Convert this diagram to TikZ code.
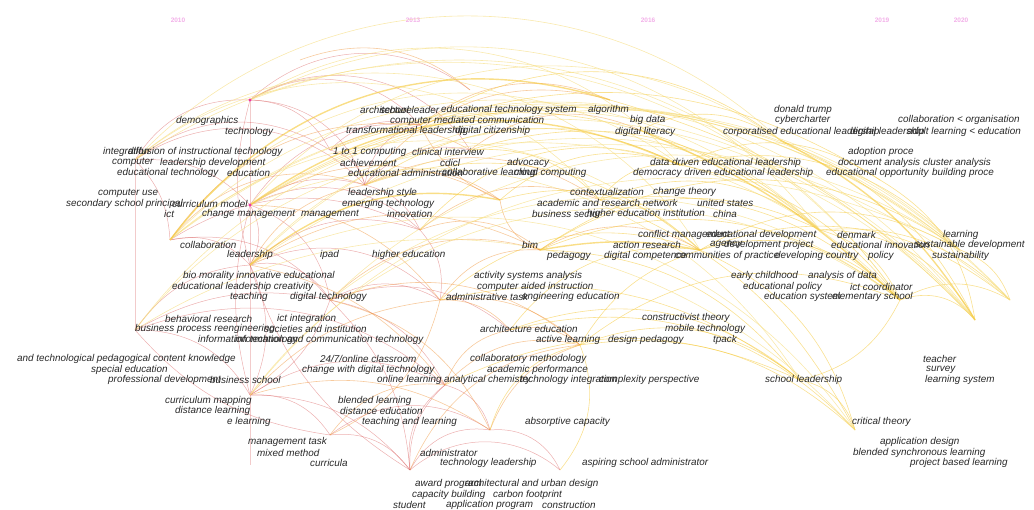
\documentclass[tikz,border=0pt]{standalone}
\usepackage{fontspec}
\setmainfont{Liberation Sans}
\definecolor{arcred}{RGB}{214,80,80}
\definecolor{arcorange}{RGB}{240,150,60}
\definecolor{arcyellow}{RGB}{245,200,55}
\definecolor{arcpale}{RGB}{246,222,130}
\definecolor{yearpink}{RGB}{242,175,232}
\definecolor{kwgray}{RGB}{40,40,40}
\tikzset{
  kw/.style={anchor=west, inner sep=0pt, font=\fontsize{9.9}{10}\selectfont\itshape, text=kwgray},
  yearlabel/.style={inner sep=0pt, font=\fontsize{6.5}{7}\selectfont\bfseries, text=yearpink},
  redarc/.style={draw=arcred, line width=0.5pt, opacity=0.45},
  orangearc/.style={draw=arcorange, line width=0.6pt, opacity=0.5},
  yellowarc/.style={draw=arcyellow, line width=0.6pt, opacity=0.55},
  palearc/.style={draw=arcpale, line width=0.6pt, opacity=0.65},
  boldarc/.style={draw=arcyellow, line width=1.4pt, opacity=0.6},
  stem/.style={draw=arcred!50, line width=0.4pt, opacity=0.6}
}
\begin{document}
\begin{tikzpicture}[x=1pt,y=-1pt]
\useasboundingbox (0,0) rectangle (1034,510);

% keyword points
\foreach \n/\x/\y in {a1/135/160, a2/135/330, a3/250/100, a4/250/205, a5/250/265,
  a6/250/395, a7/170/240, a8/330/300, a9/365/185, a10/330/150, a11/420/125,
  a12/330/435, a13/410/470, a14/445/385, a15/490/430, a16/560/470, a17/540/250,
  a18/600/200, a19/580/345, a20/440/300, a21/700/250, a22/680/165, a23/640/130,
  a24/610/100, a25/820/230, a26/900/300, a27/975/320, a28/855/430, a29/800/380,
  a30/880/180, a31/960/250, a32/780/140, a33/500/200, a34/470/150, a35/250/465,
  a36/510/330, a37/420/230, a38/300/60, a39/470/90, a40/1010/300}
  \coordinate (\n) at (\x,\y);

\draw[stem] (a1) -- (a2);
\draw[stem] (a3) -- (a35);

\foreach \a/\b/\s in {a1/a3/30, a1/a4/25, a1/a7/20, a3/a9/35, a3/a11/40, a3/a10/30,
  a4/a5/30, a4/a8/30, a4/a9/25, a5/a8/35, a5/a6/25, a6/a12/30, a6/a14/30, a2/a6/30,
  a2/a5/25, a7/a5/30, a7/a8/30, a8/a14/25, a8/a13/20, a9/a11/35, a9/a34/30,
  a10/a9/30, a12/a13/30, a13/a15/35, a13/a16/40, a14/a13/-25, a15/a16/35,
  a8/a20/30, a5/a20/35, a3/a34/45, a4/a11/30, a1/a10/35, a2/a8/20, a6/a13/25,
  a3/a39/40, a1/a9/40, a2/a14/30, a7/a37/30, a4/a37/35, a5/a37/30, a6/a8/-20,
  a12/a15/35, a2/a12/-20, a5/a13/-20, a8/a36/30, a4/a6/-15, a3/a5/-15,
  a9/a37/25, a37/a20/25, a10/a11/30, a14/a15/30, a13/a14/30}
  \draw[redarc] (\a) to[bend left=\s] (\b);

\foreach \a/\b/\s in {a5/a9/25, a7/a11/30, a8/a17/30, a9/a18/30, a9/a33/30,
  a14/a19/30, a20/a17/30, a11/a24/30, a10/a34/30, a8/a15/25, a5/a14/20,
  a6/a15/25, a12/a14/30, a20/a19/25, a33/a17/-30, a34/a23/30, a17/a21/30,
  a4/a20/25, a13/a19/30, a11/a33/-20, a37/a17/30, a36/a19/25, a20/a36/25,
  a7/a9/35, a5/a17/30, a8/a19/30, a9/a24/35, a38/a39/30, a37/a18/30,
  a14/a36/30, a15/a19/25, a12/a20/-25, a6/a20/20, a4/a33/30}
  \draw[orangearc] (\a) to[bend left=\s] (\b);

\foreach \a/\b/\s in {a4/a31/35, a10/a25/30, a9/a21/30, a11/a30/25, a17/a26/30,
  a18/a25/30, a18/a26/25, a19/a29/30, a21/a26/30, a21/a28/25, a22/a30/30,
  a23/a32/30, a24/a27/15, a25/a27/30, a25/a26/25, a29/a28/30, a26/a27/35,
  a33/a22/30, a18/a22/30, a17/a29/25, a19/a28/25, a20/a21/30, a34/a18/25,
  a22/a31/30, a32/a27/20, a14/a29/25, a15/a19/30, a16/a19/-30, a30/a27/25,
  a21/a31/30, a29/a26/-25, a19/a21/20, a36/a21/30, a37/a22/35, a33/a21/30,
  a17/a25/30, a36/a28/30, a19/a26/30, a21/a40/30, a26/a40/30, a31/a40/25,
  a25/a40/25, a22/a26/20, a18/a28/20, a20/a29/25, a9/a22/30, a11/a32/35,
  a34/a25/30, a17/a31/35, a36/a29/30}
  \draw[yellowarc] (\a) to[bend left=\s] (\b);

\foreach \a/\b/\s in {a7/a27/45, a2/a26/50, a5/a31/45, a4/a29/40, a3/a25/40,
  a1/a21/50, a6/a26/45, a8/a31/40, a10/a27/38, a5/a28/40, a7/a40/42,
  a4/a40/40, a1/a26/45, a2/a31/48, a7/a25/45, a4/a27/40, a3/a26/38, a9/a27/35,
  a1/a32/45, a7/a22/45, a5/a25/45, a6/a31/40, a8/a26/38, a2/a28/40,
  a3/a22/40, a1/a18/45, a4/a32/42, a7/a21/42, a5/a40/38}
  \draw[palearc] (\a) to[bend left=\s] (\b);

\draw[boldarc] (a7) to[bend left=35] (a24);
\draw[boldarc] (a4) to[bend left=30] (a22);
\draw[boldarc] (a23) to[bend left=10] (a26);
\draw[boldarc] (a5) to[bend left=25] (a33);
\draw[boldarc] (a32) to[bend left=15] (a27);
\draw[boldarc] (a17) to[bend left=10] (a21);

\fill[magenta!80] (a3) circle (1.6);
\fill[magenta!80] (a4) circle (1.6);

% years
\foreach \x/\t [count=\i] in {178/2010, 413/2013, 648/2016, 882/2019, 961/2020}
  \node[yearlabel] (yr\i) at (\x,20) {\t};

% keywords
\foreach \x/\y/\t [count=\i] in {
  176/121/demographics, 225/132/technology, 360/110/architecture,
  380/110/school leader, 441/110/educational technology system, 588/110/algorithm,
  390/121/computer mediated communication, 346/131/transformational leadership,
  455/131/digital citizenship, 630/120/big data, 615/132/digital literacy,
  774/110/donald trump, 775/120/cybercharter, 898/120/collaboration < organisation,
  723/132/corporatised educational leadership, 850/132/digital leadership,
  907/132/adult learning < education, 103/152/integration,
  128/152/diffusion of instructional technology, 112/162.5/computer,
  160/162.5/leadership development, 117/173/educational technology,
  227/173/education, 98/193/computer use, 66/204/secondary school principal,
  172/204/curriculum model, 164/214/ict, 202/214/change management,
  301/214/management, 333/152/1 to 1 computing, 412/152/clinical interview,
  340/163/achievement, 440/163/cdicl, 507/163/advocacy,
  348/173/educational administration, 442/173/collaborative learning,
  514/173/cloud computing, 348/193/leadership style, 342/204/emerging technology,
  387/214/innovation, 180/245/collaboration, 227/255/leadership, 320/255/ipad,
  372/255/higher education, 650/163/data driven educational leadership,
  633/173/democracy driven educational leadership, 848/152/adoption proce,
  838/163/document analysis, 923/163/cluster analysis,
  826/173/educational opportunity, 932/173/building proce,
  570/192/contextualization, 653/192/change theory,
  537/203/academic and research network, 697/203/united states,
  532/213.5/business sector, 587/213.5/higher education institution,
  713/213.5/china, 638/235/conflict management, 706/235/educational development,
  837/235/denmark, 943/235/learning, 522/245/bim, 613/245/action research,
  710/245/agency, 724/245/development project, 831/245/educational innovation,
  915/245/sustainable development, 547/255.5/pedagogy,
  604/255.5/digital competence, 675/255.5/communities of practice,
  775/255.5/developing country, 868/255.5/policy, 932/255.5/sustainability,
  183/276/bio morality innovative educational,
  172/286.5/educational leadership creativity, 230/297/teaching,
  290/297/digital technology, 474/276/activity systems analysis,
  477/286.5/computer aided instruction, 446/297/administrative task,
  522/297/engineering education, 731/276/early childhood,
  808/276/analysis of data, 743/286.5/educational policy,
  850/286.5/ict coordinator, 764/297/education system,
  832/297/elementary school, 165/318.5/behavioral research,
  277/318.5/ict integration, 135/329/business process reengineering,
  264/329/societies and institution, 198/339.5/information technology,
  235/339.5/information and communication technology,
  642/318/constructivist theory, 480/329/architecture education,
  665/329/mobile technology, 536/339.5/active learning,
  608/339.5/design pedagogy, 713/339.5/tpack,
  17/359/and technological pedagogical content knowledge,
  91/369.5/special education, 108/380/professional development,
  210/380/business school, 320/359/{24/7/online classroom},
  302/369.5/change with digital technology, 377/380/online learning,
  444/380/analytical chemistry, 520/380/technology integration,
  599/380/complexity perspective, 470/359/collaboratory methodology,
  487/369.5/academic performance, 923/359/teacher, 926/369.5/survey,
  925/380/learning system, 765/380/school leadership,
  165/400.7/curriculum mapping, 175/411/distance learning, 227/421.5/e learning,
  338/400.7/blended learning, 340/411/distance education,
  362/421.5/teaching and learning, 525/421.7/absorptive capacity,
  852/421.7/critical theory, 248/442/management task, 257/452.7/mixed method,
  310/463/curricula, 420/452.5/administrator, 440/463/technology leadership,
  582/463/aspiring school administrator, 880/442/application design,
  853/452.7/blended synchronous learning, 910/463/project based learning,
  415/484/award program, 465/484/architectural and urban design,
  412/494.5/capacity building, 493/494.5/carbon footprint, 393/505/student,
  446/505/application program, 542/505/construction}
  \node[kw] (kw\i) at (\x,\y) {\t};
\end{tikzpicture}
\end{document}
